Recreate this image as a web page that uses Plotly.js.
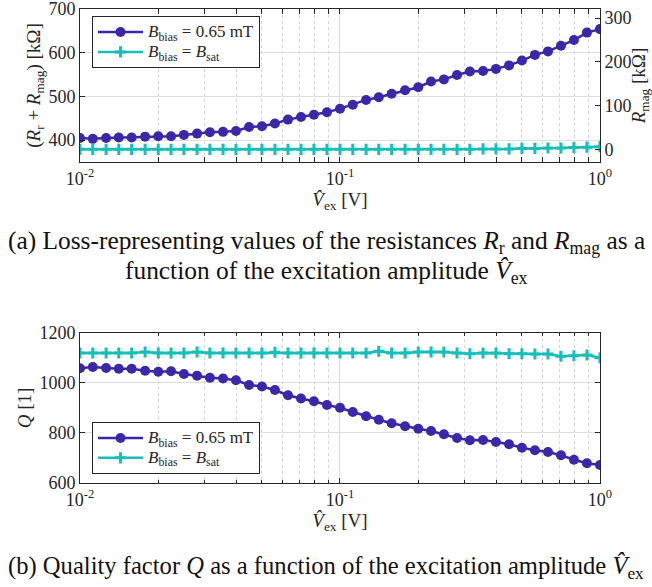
<!DOCTYPE html>
<html><head><meta charset="utf-8">
<script src="https://cdn.plot.ly/plotly-3.0.1.min.js"></script>
<style>html,body{margin:0;padding:0;background:#fff}</style>
</head><body><div id="chart" style="width:652px;height:587px"></div>
<script>
// Excitation amplitude V_ex [V]
const vex = [0.01,0.0112,0.0126,0.0141,0.0158,0.0178,0.02,0.0224,0.0251,0.0282,
  0.0316,0.0355,0.0398,0.0447,0.0501,0.0562,0.0631,0.0708,0.0794,0.0891,
  0.1,0.112,0.126,0.141,0.158,0.178,0.2,0.224,0.251,0.282,
  0.316,0.355,0.398,0.447,0.501,0.562,0.631,0.708,0.794,0.891,1.0];
// (R_r + R_mag) [kOhm]
const rTotalBias = [405,403,405,406,406,408,409,409,412,415,418,419,421,430,432,438,447,453,458,464,
  472,481,492,498,506,514,521,534,539,549,557,558,563,571,582,595,603,616,629,646,654];
const rTotalSat = [379,379,379,379,379,379,379,379,379,379,379,379,379,379,379,379,379,379,379,379,
  379,379,379,379,379,379,379,379,379,379,379,380,380,380,381,381,382,382,383,384,385];
// Quality factor Q
const qBias = [1059,1064,1060,1057,1057,1049,1045,1047,1036,1029,1021,1018,1011,992,986,972,951,938,927,912,
  901,884,867,853,839,827,817,808,795,780,771,772,764,755,741,731,724,711,693,679,672];
const qSat = [1120,1120,1120,1120,1120,1124,1120,1120,1120,1124,1120,1120,1120,1120,1120,1123,1120,1120,1120,1120,
  1120,1120,1120,1127,1120,1120,1124,1124,1124,1120,1117,1120,1120,1117,1117,1116,1116,1107,1109,1112,1101];
const xTickVals = [0.01,0.1,1];
const xTickText = ['10<sup>-2</sup>','10<sup>-1</sup>','10<sup>0</sup>'];
const legendBias = '<span style="font-size:17px"><i>B</i><sub>bias</sub> = 0.65 mT</span>';
const legendSat = '<span style="font-size:17px"><i>B</i><sub>bias</sub> = <i>B</i><sub>sat</sub></span>';

const C_BIAS = 'rgb(62,38,168)';
const C_SAT = 'rgb(24,190,184)';
const AX = '#262626';
const FONT = 'Liberation Serif';

function biasTrace(y, xa, ya, leg){
  return {x: vex, y: y, xaxis: xa, yaxis: ya, legend: leg, name: legendBias, mode: 'lines+markers',
    line: {color: C_BIAS, width: 2.5}, marker: {symbol: 'circle', size: 10, color: C_BIAS}};
}
function satTrace(y, xa, ya, leg){
  return {x: vex, y: y, xaxis: xa, yaxis: ya, legend: leg, name: legendSat, mode: 'lines+markers',
    line: {color: C_SAT, width: 2.5}, marker: {symbol: 'cross-thin', size: 8, color: C_SAT, line: {color: C_SAT, width: 3}}};
}
const traces = [
  biasTrace(rTotalBias, 'x', 'y', 'legend'),
  satTrace(rTotalSat, 'x', 'y', 'legend'),
  {x: [vex[0]], y: [null], xaxis: 'x', yaxis: 'y2', showlegend: false, mode: 'markers', hoverinfo: 'skip'},
  biasTrace(qBias, 'x2', 'y3', 'legend2'),
  satTrace(qSat, 'x2', 'y3', 'legend2')
];

const tickFont = {family: FONT, size: 18, color: AX};
const titleFont = {family: FONT, size: 19, color: AX};
function xAxis(anchor){
  return {type: 'log', range: [-2, 0], domain: [0.1227, 0.9202], anchor: anchor,
    tickvals: xTickVals, ticktext: xTickText, ticks: 'inside', ticklen: 5, tickcolor: AX,
    showline: true, linecolor: AX, linewidth: 1, mirror: 'allticks', ticklabeloverflow: 'allow',
    showgrid: true, gridcolor: '#dedede', gridwidth: 1, zeroline: false,
    tickfont: tickFont, automargin: false,
    minor: {dtick: 'D1', ticks: 'inside', ticklen: 3, tickcolor: AX, showgrid: true, griddash: 'dot', gridcolor: '#d6d6d6', gridwidth: 1},
    title: {text: '<i>V\u0302</i><sub>ex</sub> [V]', font: titleFont, standoff: 2}};
}
const legendCommon = {xanchor: 'left', bgcolor: '#fff', bordercolor: AX, borderwidth: 1,
  font: {family: FONT, size: 13, color: AX}, itemwidth: 45, tracegroupgap: 0};
const layout = {
  width: 652, height: 587, margin: {l: 0, r: 0, t: 0, b: 0}, paper_bgcolor: '#fff', plot_bgcolor: '#fff',
  font: {family: FONT, color: AX},
  xaxis: xAxis('y'),
  yaxis: {domain: [0.724, 0.9847], range: [350, 700.01], tickvals: [400,500,600,700], anchor: 'x',
    ticks: 'inside', ticklen: 5, tickcolor: AX, showline: true, linecolor: AX, linewidth: 1, ticklabeloverflow: 'allow',
    showgrid: true, gridcolor: '#dedede', zeroline: false, tickfont: tickFont, automargin: false,
    title: {text: '(<i>R</i><sub>r</sub> + <i>R</i><sub>mag</sub>) [kΩ]', font: titleFont, standoff: 2}},
  yaxis2: {overlaying: 'y', side: 'right', anchor: 'x', range: [-29, 321.01], tickvals: [0,100,200,300],
    ticks: 'inside', ticklen: 5, tickcolor: AX, showline: true, linecolor: AX, linewidth: 1, ticklabeloverflow: 'allow',
    showgrid: false, zeroline: false, tickfont: tickFont, automargin: false,
    title: {text: '<i>R</i><sub>mag</sub> [kΩ]', font: titleFont, standoff: 2}},
  xaxis2: xAxis('y3'),
  yaxis3: {domain: [0.1772, 0.4327], range: [600, 1200], tickvals: [600,800,1000,1200], anchor: 'x2',
    ticks: 'inside', ticklen: 5, tickcolor: AX, showline: true, linecolor: AX, linewidth: 1, mirror: 'ticks', ticklabeloverflow: 'allow',
    showgrid: true, gridcolor: '#dedede', zeroline: false, tickfont: tickFont, automargin: false,
    title: {text: '<i>Q</i> [1]', font: titleFont, standoff: 2}},
  legend: Object.assign({x: 0.1411, y: 0.9727, yanchor: 'top'}, legendCommon),
  legend2: Object.assign({x: 0.1411, y: 0.1925, yanchor: 'bottom'}, legendCommon),
  annotations: [
    {text: '(a) Loss-representing values of the resistances <i>R</i><sub>r</sub> and <i>R</i><sub>mag</sub> as a',
      x: 0.5, y: 0.5877, xref: 'paper', yref: 'paper', xanchor: 'center', yanchor: 'middle', showarrow: false,
      font: {family: FONT, size: 25.4, color: '#111'}},
    {text: 'function of the excitation amplitude <i>V\u0302</i><sub>ex</sub>',
      x: 0.5, y: 0.5364, xref: 'paper', yref: 'paper', xanchor: 'center', yanchor: 'middle', showarrow: false,
      font: {family: FONT, size: 25.4, color: '#111'}},
    {text: '(b) Quality factor <i>Q</i> as a function of the excitation amplitude <i>V\u0302</i><sub>ex</sub>',
      x: 0.5, y: 0.034, xref: 'paper', yref: 'paper', xanchor: 'center', yanchor: 'middle', showarrow: false,
      font: {family: FONT, size: 24.6, color: '#111'}}
  ]
};
Plotly.newPlot('chart', traces, layout, {displayModeBar: false, staticPlot: true});
</script></body></html>
